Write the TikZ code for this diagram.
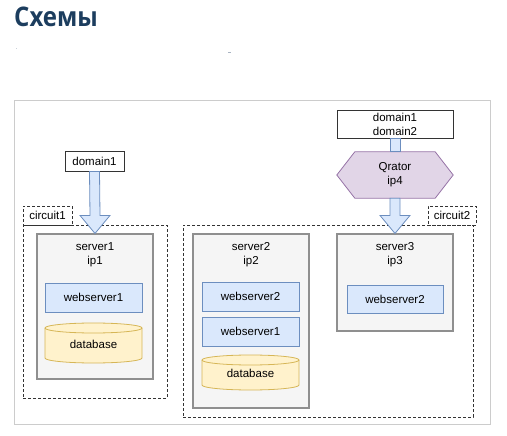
\documentclass[tikz,border=0pt]{standalone}
\usepackage{fontspec}
\setmainfont{Liberation Sans}
\newfontfamily\titlefont{Open Sans}
\usetikzlibrary{calc}
\definecolor{blueF}{HTML}{DAE8FC}
\definecolor{blueS}{HTML}{6C8EBF}
\definecolor{yelF}{HTML}{FFF2CC}
\definecolor{yelS}{HTML}{D6B656}
\definecolor{purF}{HTML}{E1D5E7}
\definecolor{purS}{HTML}{9673A6}
\definecolor{srvF}{HTML}{F5F5F5}
\definecolor{srvS}{HTML}{8F8F8F}
\definecolor{frameC}{HTML}{CCCCCC}
\definecolor{titleC}{HTML}{1C3D5E}
\definecolor{lineC}{HTML}{333333}
\definecolor{dotC}{HTML}{A9B4C2}
\tikzset{
  lbl/.style={font=\fontsize{11.5}{14}\selectfont, align=center, inner sep=0pt},
  plainbox/.style={lbl, draw=lineC, fill=white, line width=0.9pt},
  srvbox/.style={draw=srvS, fill=srvF, line width=1.1pt, inner sep=0pt},
  wsbox/.style={lbl, draw=blueS, fill=blueF, line width=0.8pt},
  region/.style={draw=lineC, line width=0.8pt, dash pattern=on 3pt off 2pt, inner sep=0pt},
  arrowsty/.style={draw=blueS, fill=blueF, line width=0.8pt, line join=miter},
  dbsty/.style={draw=yelS, fill=yelF, line width=0.8pt},
}
% block arrow from south of #1 to north of #2
\newcommand\blockarr[2]{%
  \draw[arrowsty] ($(#1.south)+(-5,0)$) -- ($(#2.north)+(-5,-18)$) -- ($(#2.north)+(-15,-18)$)
    -- (#2.north) -- ($(#2.north)+(15,-18)$) -- ($(#2.north)+(5,-18)$) -- ($(#1.south)+(5,0)$) -- cycle;}
% cylinder: name, left, top, right, bottom
\newcommand\dbcyl[5]{%
  \pgfmathsetmacro\rx{(#4-#2)/2}%
  \draw[dbsty] (#2,#3+5) -- (#2,#5-5) arc[start angle=180, end angle=360, x radius=\rx pt, y radius=5pt]
     -- (#4,#3+5) arc[start angle=0, end angle=180, x radius=\rx pt, y radius=5pt] -- cycle;
  \draw[dbsty, fill=none] (#2,#3+5) arc[start angle=180, end angle=360, x radius=\rx pt, y radius=5pt];
  \node[lbl] (#1) at ({(#2+#4)/2},{(#3+#5)/2+1}) {database};}
\begin{document}
\begin{tikzpicture}[x=1pt,y=-1pt]
\useasboundingbox (0,0) rectangle (507,436);
% title
\node[anchor=base west, inner sep=0pt, text=titleC, font=\titlefont\bfseries\fontsize{27}{30}\selectfont] (title) at (14,27) {\scalebox{0.89}[1]{Схемы}};
% stray marks
\fill[dotC!60] (15.5,48.5) rectangle (16.5,49.5);
\fill[dotC] (228,52.5) rectangle (230.5,53.5);
% outer frame
\node[draw=frameC, line width=1pt, minimum width=476, minimum height=323, inner sep=0pt] (frame) at (252,262.5) {};
% regions
\node[region, minimum width=144, minimum height=173] (c1) at (95,311.5) {};
\node[region, lbl, minimum width=49, minimum height=19] (c1l) at (47.5,215.5) {circuit1};
\node[region, minimum width=290, minimum height=192] (c2) at (328,321) {};
\node[region, lbl, fill=white, minimum width=48, minimum height=19] (c2l) at (452,215.5) {circuit2};
% servers
\node[srvbox, minimum width=116, minimum height=145] (s1) at (95,306.5) {};
\node[lbl] (s1t) at (95,255) {server1\\ip1};
\node[wsbox, minimum width=97, minimum height=29] (ws1) at (93.5,297.5) {webserver1};
\dbcyl{db1}{45}{323}{142}{363}
\node[srvbox, minimum width=116, minimum height=174] (s2) at (251,321) {};
\node[lbl] (s2t) at (251,255) {server2\\ip2};
\node[wsbox, minimum width=97, minimum height=29] (ws2a) at (250.5,296.5) {webserver2};
\node[wsbox, minimum width=97, minimum height=29] (ws2b) at (250.5,331.5) {webserver1};
\dbcyl{db2}{202}{355}{299}{390}
\node[srvbox, minimum width=116, minimum height=97] (s3) at (395,282.5) {};
\node[lbl] (s3t) at (395,255) {server3\\ip3};
\node[wsbox, minimum width=96, minimum height=28] (ws3) at (395,299) {webserver2};
% domains
\node[plainbox, minimum width=59, minimum height=20] (d1) at (94.5,161) {domain1};
\node[plainbox, minimum width=116, minimum height=28] (d2) at (395,124) {domain1\\domain2};
% qrator hexagon
\node[lbl, minimum width=116, minimum height=46] (q) at (395,175) {};
\draw[draw=purS, fill=purF, line width=0.8pt] (q.west) -- ($(q.north west)+(18,0)$) -- ($(q.north east)+(-18,0)$)
  -- (q.east) -- ($(q.south east)+(-18,0)$) -- ($(q.south west)+(18,0)$) -- cycle;
\node[lbl] (qt) at (q.center) {Qrator\\ip4};
% connectors
\draw[arrowsty] ($(d2.south)+(-5,0)$) rectangle ($(q.north)+(5,0)$);
\blockarr{d1}{s1}
\blockarr{q}{s3}
\end{tikzpicture}
\end{document}
